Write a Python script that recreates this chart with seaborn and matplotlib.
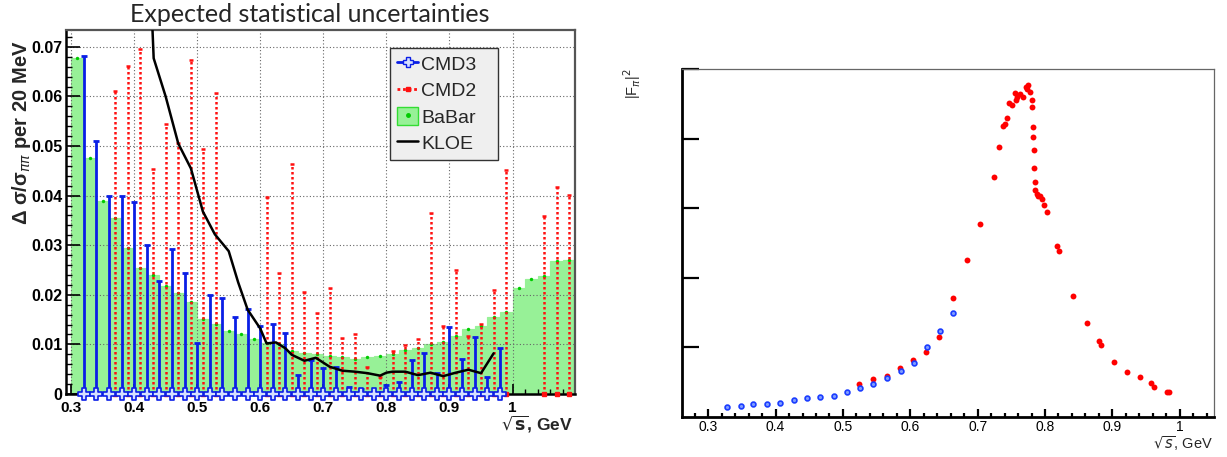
import matplotlib
matplotlib.use("Agg")
import matplotlib.pyplot as plt
from matplotlib.lines import Line2D
from matplotlib.patches import Patch
from matplotlib.ticker import MultipleLocator
import seaborn as sns
import numpy as np
import pandas as pd

# ---------------- left panel: expected statistical uncertainties ----------------
# BaBar histogram, 20 MeV bins starting at 0.30 GeV
babar_lo = 0.30
babar_w = 0.02
babar_err = [0.0677, 0.0475, 0.0390, 0.0354, 0.0295, 0.0254, 0.0239, 0.0218, 0.0203, 0.0186,
             0.0151, 0.0142, 0.0127, 0.0121, 0.0111, 0.0102, 0.0100, 0.0087, 0.0082, 0.0080,
             0.0077, 0.0075, 0.0071, 0.0074, 0.0077, 0.0080, 0.0088, 0.0092, 0.0100, 0.0105,
             0.0117, 0.0132, 0.0137, 0.0155, 0.0166, 0.0213, 0.0231, 0.0238, 0.0269, 0.0270]

# CMD3 expected errors
cmd3_x = [0.32, 0.34, 0.36, 0.38, 0.40, 0.42, 0.44, 0.46, 0.48, 0.50, 0.52, 0.54, 0.56, 0.58,
          0.60, 0.62, 0.64, 0.66, 0.68, 0.70, 0.72, 0.74, 0.76, 0.78, 0.80, 0.82, 0.84, 0.86,
          0.88, 0.90, 0.92, 0.94, 0.96, 0.98]
cmd3_err = [0.0682, 0.0511, 0.0400, 0.0399, 0.0388, 0.0300, 0.0228, 0.0292, 0.0245, 0.0102,
            0.0200, 0.0194, 0.0155, 0.0171, 0.0137, 0.0142, 0.0122, 0.0038, 0.0069, 0.0052,
            0.0055, 0.0015, 0.0011, 0.0003, 0.0018, 0.0025, 0.0069, 0.0083, 0.0042, 0.0135,
            0.0071, 0.0114, 0.0035, 0.0093]

# CMD2 errors
cmd2_x = [0.37, 0.39, 0.41, 0.43, 0.45, 0.47, 0.49, 0.51, 0.53, 0.61, 0.63, 0.65, 0.67, 0.69,
          0.71, 0.73, 0.75, 0.77, 0.79, 0.81, 0.83, 0.85, 0.87, 0.89, 0.91, 0.93, 0.95, 0.97,
          0.99, 1.05, 1.07, 1.09]
cmd2_err = [0.0610, 0.0661, 0.0695, 0.0454, 0.0545, 0.0507, 0.0674, 0.0495, 0.0607, 0.0398,
            0.0243, 0.0463, 0.0206, 0.0164, 0.0213, 0.0112, 0.0120, 0.0054, 0.0034, 0.0087,
            0.0099, 0.0110, 0.0364, 0.0137, 0.0251, 0.0117, 0.0141, 0.0209, 0.0452, 0.0359,
            0.0418, 0.0401]

# KLOE curve
kloe_x = [0.427, 0.431, 0.45, 0.47, 0.49, 0.509, 0.528, 0.55, 0.565, 0.58, 0.60, 0.61, 0.625,
          0.64, 0.65, 0.67, 0.688, 0.71, 0.73, 0.75, 0.77, 0.79, 0.80, 0.81, 0.83, 0.85, 0.87,
          0.89, 0.91, 0.93, 0.95, 0.97]
kloe_y = [0.0800, 0.0677, 0.0600, 0.0505, 0.0455, 0.0368, 0.0322, 0.0288, 0.0225, 0.0170,
          0.0132, 0.0102, 0.0104, 0.0092, 0.0079, 0.0067, 0.0073, 0.0055, 0.0047, 0.0045,
          0.0042, 0.0037, 0.0043, 0.0045, 0.0045, 0.0038, 0.0043, 0.0036, 0.0043, 0.0049,
          0.0042, 0.0082]

# ---------------- right panel: |F_pi|^2 ----------------
ff_cmd3_x = [0.328, 0.348, 0.367, 0.387, 0.407, 0.427, 0.446, 0.466, 0.486, 0.506, 0.526,
             0.545, 0.565, 0.586, 0.605, 0.625, 0.644, 0.664]
ff_cmd3_y = [1.48, 1.63, 1.82, 1.87, 2.06, 2.44, 2.68, 2.83, 3.07, 3.64, 4.21, 4.69, 5.55,
             6.61, 7.71, 10.0, 12.4, 14.9]

ff_cmd2_x = [0.5245, 0.5443, 0.565, 0.5849, 0.6046, 0.6234, 0.6432, 0.664, 0.684, 0.7036,
             0.7243, 0.7323, 0.7383, 0.7407, 0.7442, 0.747, 0.7506, 0.755, 0.757, 0.759,
             0.763, 0.768, 0.772, 0.774, 0.775, 0.778, 0.780, 0.7807, 0.7818, 0.7828, 0.7833,
             0.7837, 0.7847, 0.7857, 0.7877, 0.790, 0.7926, 0.795, 0.7985, 0.8035, 0.8183,
             0.8213, 0.8421, 0.862, 0.8797, 0.8827, 0.9024, 0.9222, 0.941, 0.9573, 0.9617,
             0.9806, 0.9844]
ff_cmd2_y = [4.74, 5.46, 5.94, 7.09, 8.19, 9.29, 11.5, 17.1, 22.6, 27.8,
             34.5, 38.8, 41.8, 42.1, 42.9, 45.1, 44.8, 46.5, 45.5, 46.0,
             46.4, 46.0, 47.4, 47.1, 47.7, 46.7, 45.5, 44.6, 41.7, 40.3, 38.3,
             35.8, 33.7, 32.6, 32.1, 31.7, 31.8, 31.3, 30.4, 29.4, 24.5,
             23.9, 17.4, 13.5, 10.9, 10.3, 7.95, 6.51, 5.79, 4.84, 4.36,
             3.64, 3.64]

W, H = 1227, 457
BLUE = "#0a1ee6"
RED = "#ff1010"
GREEN = "#97f197"

sns.set_style("white")
plt.rcParams['font.family'] = ['Liberation Sans', 'DejaVu Sans']

fig = plt.figure(figsize=(W / 100, H / 100), dpi=100)
axL = fig.add_axes([66 / W, 1 - 394 / H, 509 / W, 364 / H])
axR = fig.add_axes([682 / W, 1 - 417 / H, 532 / W, 348 / H])

# ---- left panel ----
n_bins = len(babar_err)
centers = babar_lo + babar_w * (np.arange(n_bins) + 0.5)
df_babar = pd.DataFrame({'E': centers, 'err': babar_err})
sns.histplot(data=df_babar, x='E', weights='err', binwidth=babar_w,
             binrange=(babar_lo, babar_lo + babar_w * n_bins), ax=axL, color=GREEN,
             alpha=1, edgecolor=GREEN, zorder=1)
sns.scatterplot(data=df_babar, x='E', y='err', ax=axL, color="#00cc00", s=6, linewidth=0,
                zorder=2)

zeros3 = np.zeros(len(cmd3_x))
axL.errorbar(cmd3_x, zeros3, yerr=[zeros3, cmd3_err], fmt='none', ecolor=BLUE,
             elinewidth=2, capsize=2.2, capthick=2, zorder=4)
axL.scatter(cmd3_x, zeros3, marker='P', s=65, facecolor='#d5e0ff', edgecolor=BLUE,
            linewidth=1.2, zorder=6, clip_on=False)

zeros2 = np.zeros(len(cmd2_x))
eb = axL.errorbar(cmd2_x, zeros2, yerr=[zeros2, cmd2_err], fmt='s', ms=3.2, color=RED,
                  ecolor=RED, elinewidth=1.8, capsize=1.5, capthick=1.8, zorder=3)
eb[2][0].set_linestyle((0, (1, 1)))
eb[0].set_clip_on(False)

sns.lineplot(x=kloe_x, y=kloe_y, ax=axL, sort=False, estimator=None, color='black',
             linewidth=1.8, zorder=5)

axL.set_xlim(0.292, 1.099)
axL.set_ylim(0, 0.0734)
axL.set_xlabel('')
axL.set_ylabel('')
xt = [0.3, 0.4, 0.5, 0.6, 0.7, 0.8, 0.9, 1.0]
axL.set_xticks(xt)
axL.set_xticklabels([f'{v:g}' for v in xt], fontweight='bold', fontsize=11)
yt = [0, 0.01, 0.02, 0.03, 0.04, 0.05, 0.06, 0.07]
axL.set_yticks(yt)
axL.set_yticklabels([f'{v:g}' for v in yt], fontweight='bold', fontsize=11.5)
axL.xaxis.set_minor_locator(MultipleLocator(0.02))
axL.yaxis.set_minor_locator(MultipleLocator(0.002))
axL.tick_params(which='both', direction='in', colors='black', bottom=True, left=True)
axL.tick_params(axis='y', which='major', length=10, width=1.2, pad=2.5)
axL.tick_params(axis='y', which='minor', length=4, width=1.0)
axL.tick_params(axis='x', which='major', length=7, width=1.2, pad=5)
axL.tick_params(axis='x', which='minor', length=3.5, width=1.0)
axL.grid(True, which='major', color='#666666', linestyle=(0, (1, 2)), linewidth=0.8)
axL.set_axisbelow(False)
for s in ['left', 'bottom']:
    axL.spines[s].set_color('black')
    axL.spines[s].set_linewidth(1.8)
for s in ['top', 'right']:
    axL.spines[s].set_color('#555555')
    axL.spines[s].set_linewidth(1.6)

h_cmd3 = Line2D([], [], color=BLUE, lw=2, marker='P', ms=7, mfc='#d5e0ff', mec=BLUE)
h_cmd2 = Line2D([], [], color=RED, lw=2, ls=(0, (1, 1)), marker='s', ms=3)
h_babar = (Patch(facecolor=GREEN, edgecolor='#33dd33'),
           Line2D([], [], ls='none', marker='o', ms=2.5, color='#00cc00'))
h_kloe = Line2D([], [], color='black', lw=1.8)
leg = axL.legend([h_cmd3, h_cmd2, h_babar, h_kloe], ['CMD3', 'CMD2', 'BaBar', 'KLOE'],
                 loc='upper left', bbox_to_anchor=(0.637, 0.0, 0.212, 0.951), mode='expand',
                 frameon=True, fancybox=False, facecolor='#efefef', edgecolor='#333333',
                 framealpha=1, fontsize=14, handlelength=1.1, handleheight=1.0,
                 handletextpad=0.15, borderpad=0.35, labelspacing=0.36, borderaxespad=0)
leg.get_frame().set_linewidth(1.0)
leg.set_zorder(10)

fig.text(310 / W, 1 - 14 / H, 'Expected statistical uncertainties', ha='center',
         va='center', fontsize=18, family='Lato')
fig.text(22 / W, 1 - 133 / H, 'Δ σ/σ$_{\\pi\\pi}$ per 20 MeV', rotation=90,
         ha='center', va='center', fontsize=14.5, fontweight='bold')
fig.text(573 / W, 1 - 424 / H, r'$\sqrt{\mathbf{s}}$, GeV', ha='right', va='center',
         fontsize=12.5, fontweight='bold')

# ---- right panel ----
sns.scatterplot(x=ff_cmd2_x, y=ff_cmd2_y, ax=axR, color='#ff0000', s=18, linewidth=0,
                zorder=3)
sns.scatterplot(x=ff_cmd3_x, y=ff_cmd3_y, ax=axR, color='#7f9cff', edgecolor='#1a3cff',
                s=12, linewidth=1.2, zorder=4)
axR.set_xlim(0.261, 1.051)
axR.set_ylim(0, 50)
axR.set_xlabel('')
axR.set_ylabel('')
axR.set_xticks(xt)
axR.set_xticklabels([f'{v:g}' for v in xt], fontsize=10)
axR.set_yticks([10, 20, 30, 40, 50])
axR.set_yticklabels([])
axR.xaxis.set_minor_locator(MultipleLocator(0.02))
axR.tick_params(which='both', direction='in', colors='black', bottom=True, left=True)
axR.tick_params(axis='x', which='major', length=6, width=1.6, pad=2)
axR.tick_params(axis='x', which='minor', length=3, width=1.6)
axR.tick_params(axis='y', which='major', length=12, width=1.6)
for s in ['left', 'bottom']:
    axR.spines[s].set_color('black')
    axR.spines[s].set_linewidth(2.0)
for s in ['top', 'right']:
    axR.spines[s].set_color('#666666')
    axR.spines[s].set_linewidth(0.9)

fig.text(632 / W, 1 - 84 / H, r'|F$_{\pi}$|$^{2}$', rotation=90, ha='center', va='center',
         fontsize=10.5)
fig.text(1213 / W, 1 - 444 / H, r'$\sqrt{s}$, GeV', ha='right', va='center', fontsize=10.5)

fig.savefig('out.png', dpi=100)
